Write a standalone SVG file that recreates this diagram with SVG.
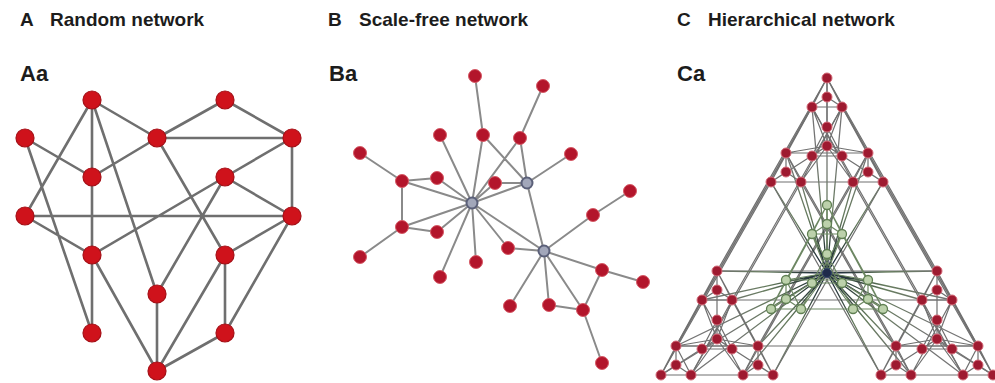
<svg xmlns="http://www.w3.org/2000/svg" width="995" height="383" viewBox="0 0 995 383">
<style>
.hd{font-family:"Liberation Sans",Arial,sans-serif;font-weight:bold;font-size:19px;fill:#1c1c1c}
.sub{font-family:"Liberation Sans",Arial,sans-serif;font-weight:bold;font-size:22px;fill:#1c1c1c}
.ea{fill:none;stroke:#6f6f6f;stroke-width:2.6;stroke-linecap:round}
.eb{fill:none;stroke:#8a8a8a;stroke-width:2;stroke-linecap:round}
.ec{fill:none;stroke:#707070;stroke-width:1.2}
.eg{fill:none;stroke:#6d8763;stroke-width:1.2}
.eh{fill:none;stroke:url(#hubg);stroke-width:1.3}
.na{fill:#cf121b;stroke:#a50f16;stroke-width:1.2}
.nb{fill:#b3152b;stroke:#d65a66;stroke-width:1}
.hb{fill:#a2a7ba;stroke:#5b6079;stroke-width:2}
.cr{fill:#9e1a30;stroke:#d46a78;stroke-width:1}
.cg{fill:#bcd1ab;stroke:#5f7f52;stroke-width:1.3}
.ch{fill:#1e2a4a;stroke:#34466a;stroke-width:1}
</style>
<defs>
<radialGradient id="hubg" gradientUnits="userSpaceOnUse" cx="827" cy="273" r="120">
<stop offset="0" stop-color="#15203c"/>
<stop offset="0.25" stop-color="#34453f"/>
<stop offset="0.5" stop-color="#667c5e"/>
<stop offset="1" stop-color="#747474"/>
</radialGradient>
<path id="clEdges" d="M0,0 l-15,29 h30 z v19 m-15,10 l15,-10 l15,10 M0,49 l-15,29 h30 z v19 m-15,10 l15,-10 l15,10 M-41,75 l-15,29 h30 z v19 m-15,10 l15,-10 l15,10 M41,75 l-15,29 h30 z v19 m-15,10 l15,-10 l15,10 M0,0 L0,68 M-15,29 L0,68 M15,29 L0,68 M-41,75 L0,68 M-56,104 L0,68 M-26,104 L0,68 M41,75 L0,68 M26,104 L0,68 M56,104 L0,68 M0,0 L-41,75 M-15,29 L-56,104 M15,29 L-26,104 M0,0 L41,75 M-15,29 L26,104 M15,29 L56,104 M-41,75 L41,75 M-56,104 L26,104 M-26,104 L56,104"/>
</defs>
<rect width="995" height="383" fill="#ffffff"/>

<g id="labels">
<text class="hd" x="20" y="26">A</text><text class="hd" x="50" y="26">Random network</text>
<text class="hd" x="328" y="26">B</text><text class="hd" x="359" y="26">Scale-free network</text>
<text class="hd" x="677" y="26">C</text><text class="hd" x="708" y="26">Hierarchical network</text>
<text class="sub" x="20" y="81">Aa</text>
<text class="sub" x="329" y="81">Ba</text>
<text class="sub" x="677" y="81">Ca</text>
</g>

<g id="connectors-A">
<path class="ea" d="M92,100 L157,138 M92,100 L92,177 M92,100 L25,216 M92,100 L157,294 M225,100 L157,138 M225,100 L292,138 M25,138 L92,177 M25,138 L92,333 M157,138 L292,138 M157,138 L92,177 M157,138 L225,255 M292,138 L225,177 M292,138 L292,216 M92,177 L92,255 M225,177 L292,216 M225,177 L92,255 M225,177 L157,294 M25,216 L292,216 M25,216 L92,255 M292,216 L225,255 M292,216 L225,333 M92,255 L92,333 M92,255 L157,371 M225,255 L225,333 M225,255 L157,371 M157,294 L157,371 M225,333 L157,371"/>
</g>
<g id="nodes-A">
<g id="a1"><circle class="na" cx="92" cy="100" r="9"/></g>
<g id="a2"><circle class="na" cx="225" cy="100" r="9"/></g>
<g id="a3"><circle class="na" cx="25" cy="138" r="9"/></g>
<g id="a4"><circle class="na" cx="157" cy="138" r="9"/></g>
<g id="a5"><circle class="na" cx="292" cy="138" r="9"/></g>
<g id="a6"><circle class="na" cx="92" cy="177" r="9"/></g>
<g id="a7"><circle class="na" cx="225" cy="177" r="9"/></g>
<g id="a8"><circle class="na" cx="25" cy="216" r="9"/></g>
<g id="a9"><circle class="na" cx="292" cy="216" r="9"/></g>
<g id="a10"><circle class="na" cx="92" cy="255" r="9"/></g>
<g id="a11"><circle class="na" cx="225" cy="255" r="9"/></g>
<g id="a12"><circle class="na" cx="157" cy="294" r="9"/></g>
<g id="a13"><circle class="na" cx="92" cy="333" r="9"/></g>
<g id="a14"><circle class="na" cx="225" cy="333" r="9"/></g>
<g id="a15"><circle class="na" cx="157" cy="371" r="9"/></g>
</g>

<g id="connectors-B">
<path class="eb" d="M475,76 L483,135 M543,86 L520,138 M440,135 L472,203 M483,135 L472,203 M483,135 L527,183 M520,138 L472,203 M520,138 L527,183 M571,154 L527,183 M360,153 L402,181 M402,181 L437,178 M402,181 L402,227 M402,181 L472,203 M437,178 L472,203 M495,183 L527,183 M495,183 L472,203 M472,203 L527,183 M402,227 L472,203 M402,227 L437,232 M402,227 L360,257 M437,232 L472,203 M440,277 L472,203 M476,262 L472,203 M508,248 L472,203 M472,203 L544,251 M527,183 L544,251 M508,248 L544,251 M544,251 L593,215 M593,215 L630,191 M544,251 L602,270 M602,270 L643,282 M602,270 L583,310 M544,251 L510,306 M544,251 L549,305 M544,251 L583,310 M549,305 L583,310 M583,310 L602,363"/>
</g>
<g id="nodes-B">
<g id="b1"><circle class="nb" cx="475" cy="76" r="6.5"/></g>
<g id="b2"><circle class="nb" cx="543" cy="86" r="6.5"/></g>
<g id="b3"><circle class="nb" cx="440" cy="135" r="6.5"/></g>
<g id="b4"><circle class="nb" cx="483" cy="135" r="6.5"/></g>
<g id="b5"><circle class="nb" cx="520" cy="138" r="6.5"/></g>
<g id="b6"><circle class="nb" cx="360" cy="153" r="6.5"/></g>
<g id="b7"><circle class="nb" cx="571" cy="154" r="6.5"/></g>
<g id="b8"><circle class="nb" cx="402" cy="181" r="6.5"/></g>
<g id="b9"><circle class="nb" cx="437" cy="178" r="6.5"/></g>
<g id="b10"><circle class="nb" cx="495" cy="183" r="6.5"/></g>
<g id="b11"><circle class="nb" cx="630" cy="191" r="6.5"/></g>
<g id="b12"><circle class="nb" cx="402" cy="227" r="6.5"/></g>
<g id="b13"><circle class="nb" cx="437" cy="232" r="6.5"/></g>
<g id="b14"><circle class="nb" cx="360" cy="257" r="6.5"/></g>
<g id="b15"><circle class="nb" cx="440" cy="277" r="6.5"/></g>
<g id="b16"><circle class="nb" cx="476" cy="262" r="6.5"/></g>
<g id="b17"><circle class="nb" cx="508" cy="248" r="6.5"/></g>
<g id="b18"><circle class="nb" cx="593" cy="215" r="6.5"/></g>
<g id="b19"><circle class="nb" cx="602" cy="270" r="6.5"/></g>
<g id="b20"><circle class="nb" cx="643" cy="282" r="6.5"/></g>
<g id="b21"><circle class="nb" cx="510" cy="306" r="6.5"/></g>
<g id="b22"><circle class="nb" cx="549" cy="305" r="6.5"/></g>
<g id="b23"><circle class="nb" cx="583" cy="310" r="6.5"/></g>
<g id="b24"><circle class="nb" cx="602" cy="363" r="6.5"/></g>
<g id="hub1"><circle class="hb" cx="472" cy="203" r="5.5"/></g>
<g id="hub2"><circle class="hb" cx="527" cy="183" r="5.5"/></g>
<g id="hub3"><circle class="hb" cx="544" cy="251" r="5.5"/></g>
</g>

<g id="connectors-C">
<path class="ec" d="M827,78L717,271 M812,107L702,300 M842,107L732,300 M786,153L676,346 M771,182L661,375 M801,182L691,375 M868,153L758,346 M853,182L743,375 M883,182L773,375 M827,78L937,271 M812,107L922,300 M842,107L952,300 M786,153L896,346 M771,182L881,375 M801,182L911,375 M868,153L978,346 M853,182L963,375 M883,182L993,375 M717,271H937 M702,300H922 M732,300H952 M676,346H896 M758,346H978"/>
<use href="#clEdges" x="827" y="78" class="ec"/>
<use href="#clEdges" x="717" y="271" class="ec"/>
<use href="#clEdges" x="937" y="271" class="ec"/>
<path class="eh" d="M827,78L827,273 M812,107L827,273 M842,107L827,273 M786,153L827,273 M771,182L827,273 M801,182L827,273 M868,153L827,273 M853,182L827,273 M883,182L827,273 M717,271L827,273 M702,300L827,273 M732,300L827,273 M676,346L827,273 M661,375L827,273 M691,375L827,273 M758,346L827,273 M743,375L827,273 M773,375L827,273 M937,271L827,273 M922,300L827,273 M952,300L827,273 M896,346L827,273 M881,375L827,273 M911,375L827,273 M978,346L827,273 M963,375L827,273 M993,375L827,273"/>
<use href="#clEdges" x="827" y="205" class="eg"/>
</g>

<g id="nodes-C">
<g id="c-top">
<circle class="cr" cx="827" cy="78" r="5"/><circle class="cr" cx="827" cy="97" r="5"/><circle class="cr" cx="812" cy="107" r="5"/><circle class="cr" cx="842" cy="107" r="5"/>
<circle class="cr" cx="827" cy="127" r="5"/><circle class="cr" cx="827" cy="146" r="5"/><circle class="cr" cx="812" cy="156" r="5"/><circle class="cr" cx="842" cy="156" r="5"/>
<circle class="cr" cx="786" cy="153" r="5"/><circle class="cr" cx="786" cy="172" r="5"/><circle class="cr" cx="771" cy="182" r="5"/><circle class="cr" cx="801" cy="182" r="5"/>
<circle class="cr" cx="868" cy="153" r="5"/><circle class="cr" cx="868" cy="172" r="5"/><circle class="cr" cx="853" cy="182" r="5"/><circle class="cr" cx="883" cy="182" r="5"/>
</g>
<g id="c-left">
<circle class="cr" cx="717" cy="271" r="5"/><circle class="cr" cx="717" cy="290" r="5"/><circle class="cr" cx="702" cy="300" r="5"/><circle class="cr" cx="732" cy="300" r="5"/>
<circle class="cr" cx="717" cy="320" r="5"/><circle class="cr" cx="717" cy="339" r="5"/><circle class="cr" cx="702" cy="349" r="5"/><circle class="cr" cx="732" cy="349" r="5"/>
<circle class="cr" cx="676" cy="346" r="5"/><circle class="cr" cx="676" cy="365" r="5"/><circle class="cr" cx="661" cy="375" r="5"/><circle class="cr" cx="691" cy="375" r="5"/>
<circle class="cr" cx="758" cy="346" r="5"/><circle class="cr" cx="758" cy="365" r="5"/><circle class="cr" cx="743" cy="375" r="5"/><circle class="cr" cx="773" cy="375" r="5"/>
</g>
<g id="c-right">
<circle class="cr" cx="937" cy="271" r="5"/><circle class="cr" cx="937" cy="290" r="5"/><circle class="cr" cx="922" cy="300" r="5"/><circle class="cr" cx="952" cy="300" r="5"/>
<circle class="cr" cx="937" cy="320" r="5"/><circle class="cr" cx="937" cy="339" r="5"/><circle class="cr" cx="922" cy="349" r="5"/><circle class="cr" cx="952" cy="349" r="5"/>
<circle class="cr" cx="896" cy="346" r="5"/><circle class="cr" cx="896" cy="365" r="5"/><circle class="cr" cx="881" cy="375" r="5"/><circle class="cr" cx="911" cy="375" r="5"/>
<circle class="cr" cx="978" cy="346" r="5"/><circle class="cr" cx="978" cy="365" r="5"/><circle class="cr" cx="963" cy="375" r="5"/><circle class="cr" cx="993" cy="375" r="5"/>
</g>
<g id="c-center">
<circle class="cg" cx="827" cy="205" r="4.5"/><circle class="cg" cx="827" cy="224" r="4.5"/><circle class="cg" cx="812" cy="234" r="4.5"/><circle class="cg" cx="842" cy="234" r="4.5"/>
<circle class="cg" cx="827" cy="254" r="4.5"/><circle class="cg" cx="812" cy="283" r="4.5"/><circle class="cg" cx="842" cy="283" r="4.5"/>
<circle class="cg" cx="786" cy="280" r="4.5"/><circle class="cg" cx="786" cy="299" r="4.5"/><circle class="cg" cx="771" cy="309" r="4.5"/><circle class="cg" cx="801" cy="309" r="4.5"/>
<circle class="cg" cx="868" cy="280" r="4.5"/><circle class="cg" cx="868" cy="299" r="4.5"/><circle class="cg" cx="853" cy="309" r="4.5"/><circle class="cg" cx="883" cy="309" r="4.5"/>
</g>
<g id="c-hub"><circle class="ch" cx="827" cy="273" r="4.5"/></g>
</g>
</svg>
